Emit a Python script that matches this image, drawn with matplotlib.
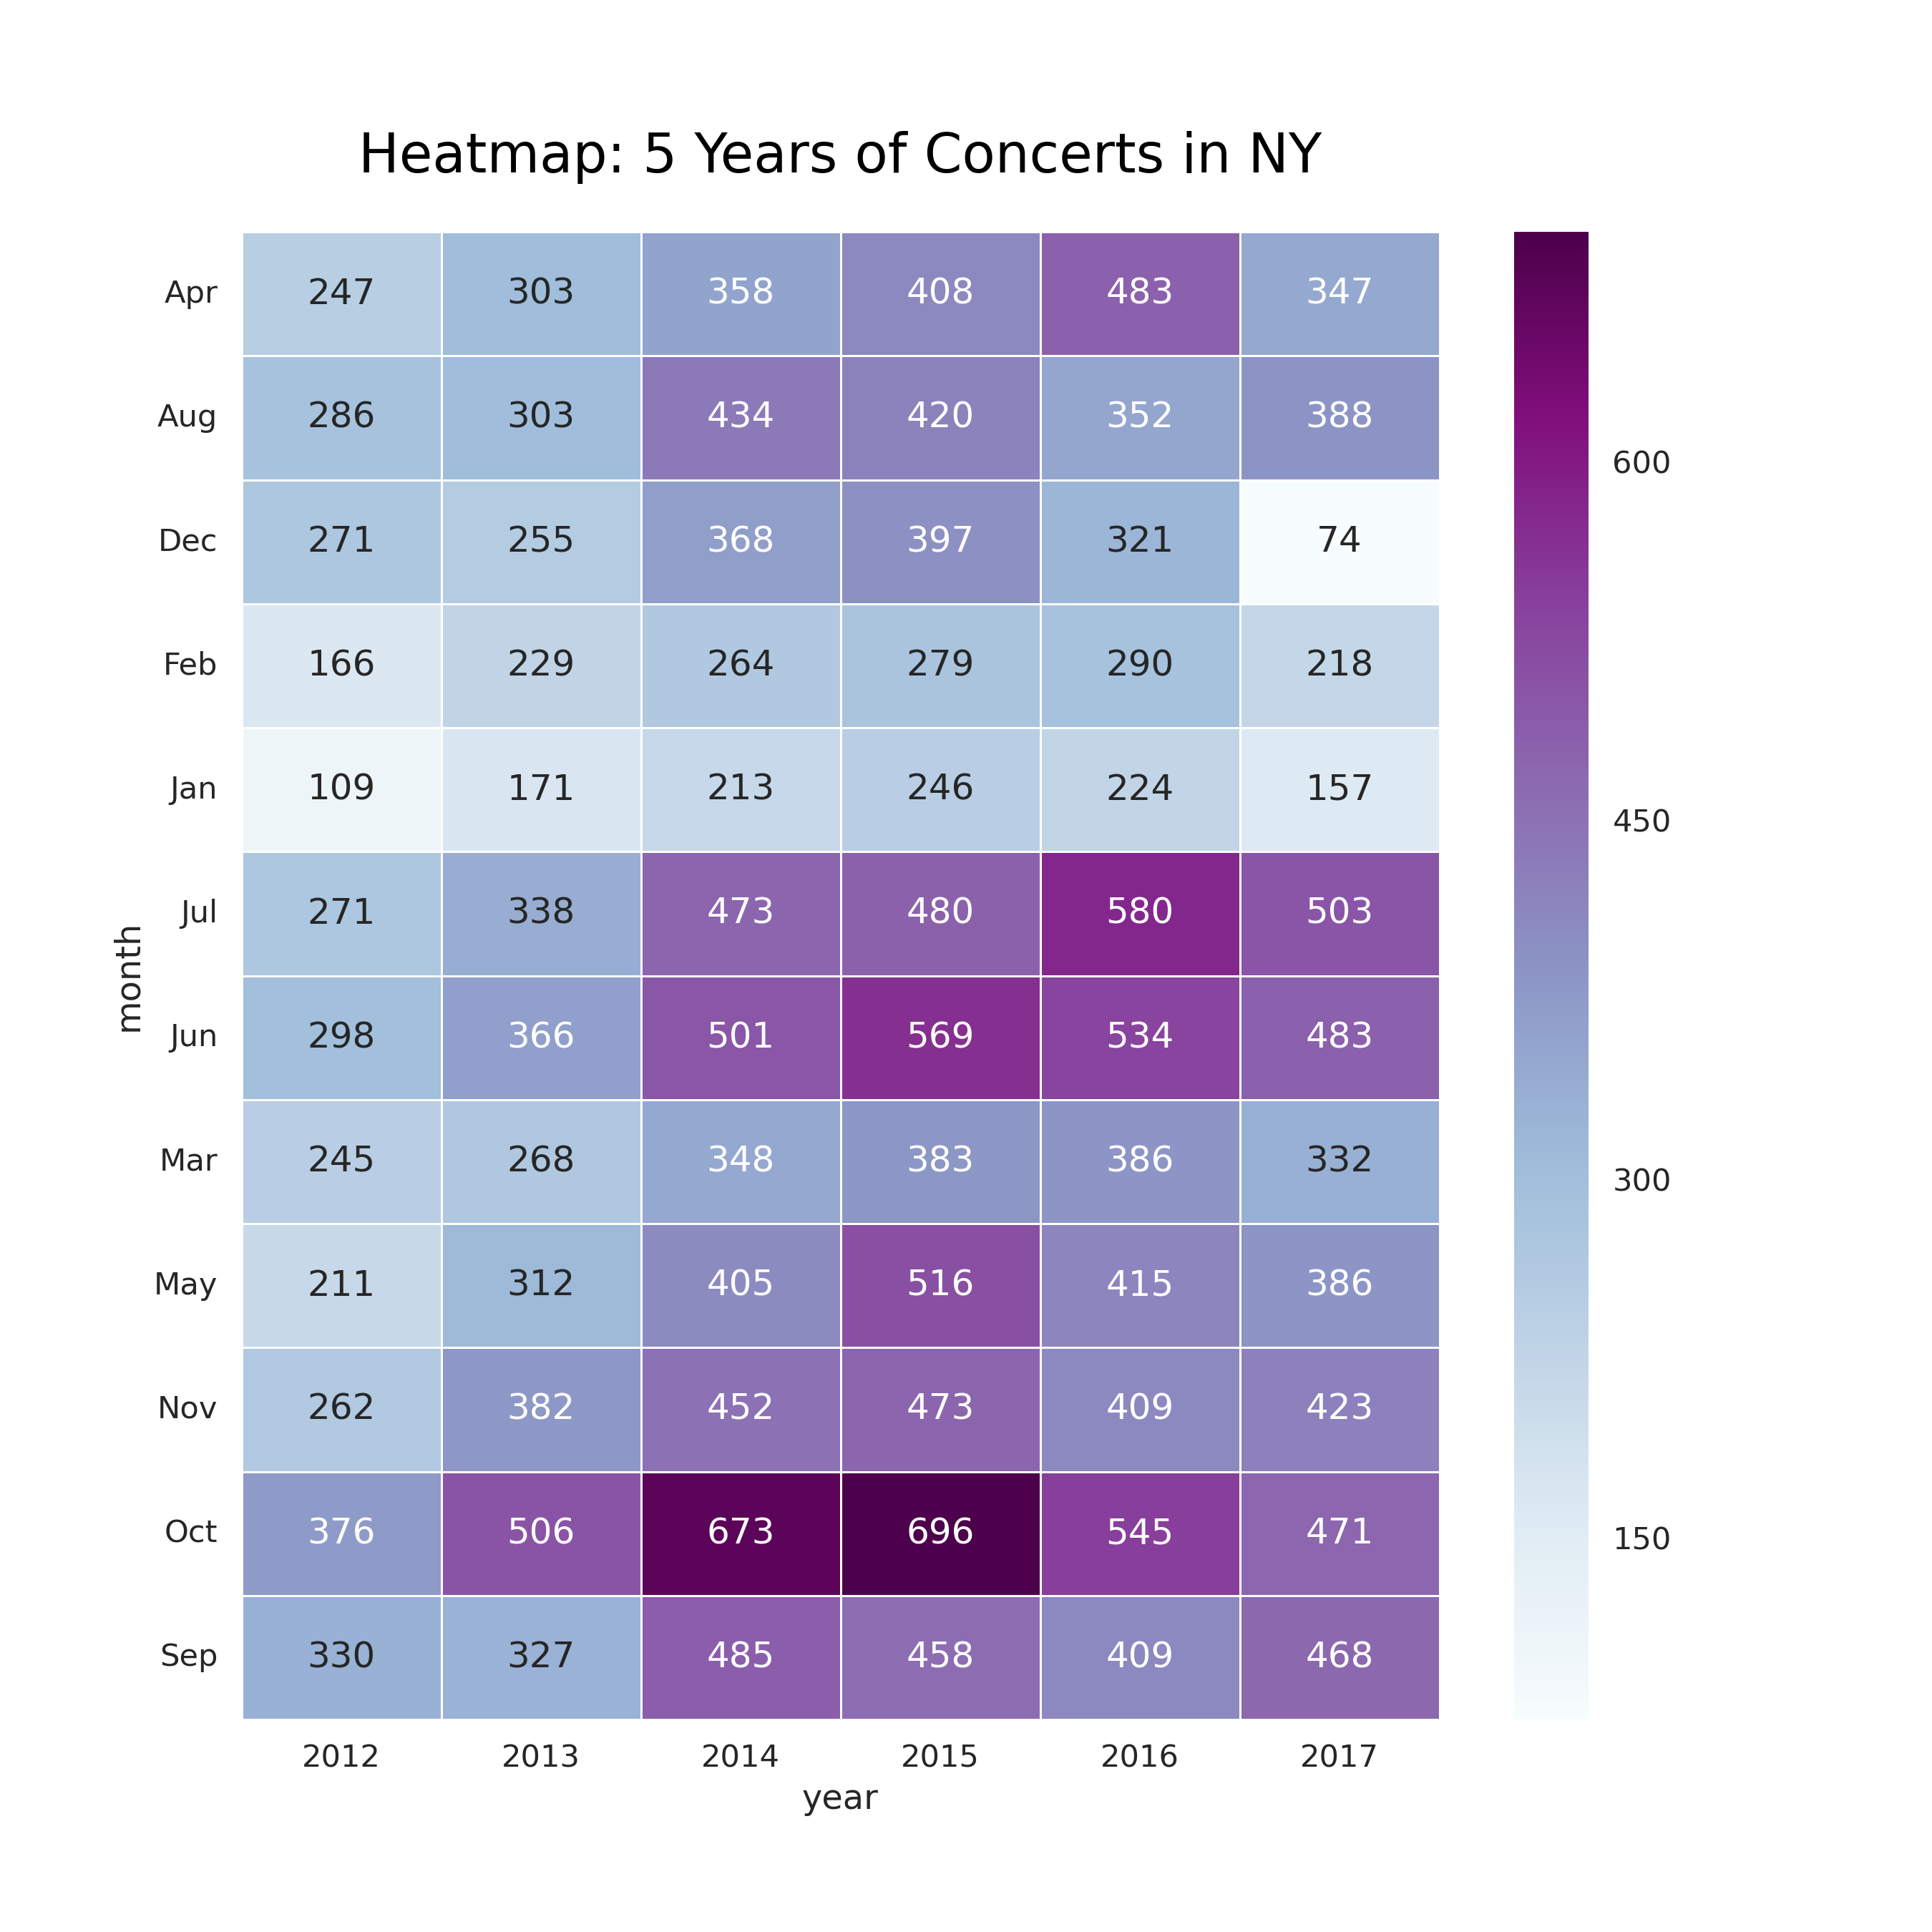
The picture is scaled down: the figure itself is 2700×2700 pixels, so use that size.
import matplotlib
matplotlib.use("Agg")
import matplotlib.pyplot as plt
import seaborn as sns
import pandas as pd

months = ["Apr", "Aug", "Dec", "Feb", "Jan", "Jul", "Jun", "Mar", "May", "Nov", "Oct", "Sep"]
years = ["2012", "2013", "2014", "2015", "2016", "2017"]
v2012 = [247, 286, 271, 166, 109, 271, 298, 245, 211, 262, 376, 330]
v2013 = [303, 303, 255, 229, 171, 338, 366, 268, 312, 382, 506, 327]
v2014 = [358, 434, 368, 264, 213, 473, 501, 348, 405, 452, 673, 485]
v2015 = [408, 420, 397, 279, 246, 480, 569, 383, 516, 473, 696, 458]
v2016 = [483, 352, 321, 290, 224, 580, 534, 386, 415, 409, 545, 409]
v2017 = [347, 388, 74, 218, 157, 503, 483, 332, 386, 423, 471, 468]
cbar_ticks = [150, 300, 450, 600]

df = pd.DataFrame({"2012": v2012, "2013": v2013, "2014": v2014,
                   "2015": v2015, "2016": v2016, "2017": v2017}, index=months)
df.index.name = "month"
df.columns.name = "year"

sns.set_style("white")
plt.rcParams['font.family'] = ['DejaVu Sans']

fig, ax = plt.subplots(figsize=(9, 9), dpi=300)
sns.heatmap(df, annot=True, fmt="d", cmap="BuPu", linewidths=0.6, linecolor="white",
            annot_kws={"size": 12}, ax=ax, cbar_kws={"ticks": cbar_ticks})
ax.set_title("Heatmap: 5 Years of Concerts in NY", fontsize=18.2, color="black", pad=20)
ax.tick_params(axis="both", labelsize=10.4, length=0, pad=8)
ax.set_yticklabels(ax.get_yticklabels(), rotation=0)
ax.set_xticklabels(ax.get_xticklabels(), rotation=0)
ax.set_xlabel("year", fontsize=11.5, labelpad=3)
ax.set_ylabel("month", fontsize=11.5, labelpad=3)
cbar = ax.collections[0].colorbar
cbar.ax.tick_params(labelsize=10.4, length=0, pad=8)
cbar.outline.set_visible(False)

fig.savefig("out.png", dpi=300)
